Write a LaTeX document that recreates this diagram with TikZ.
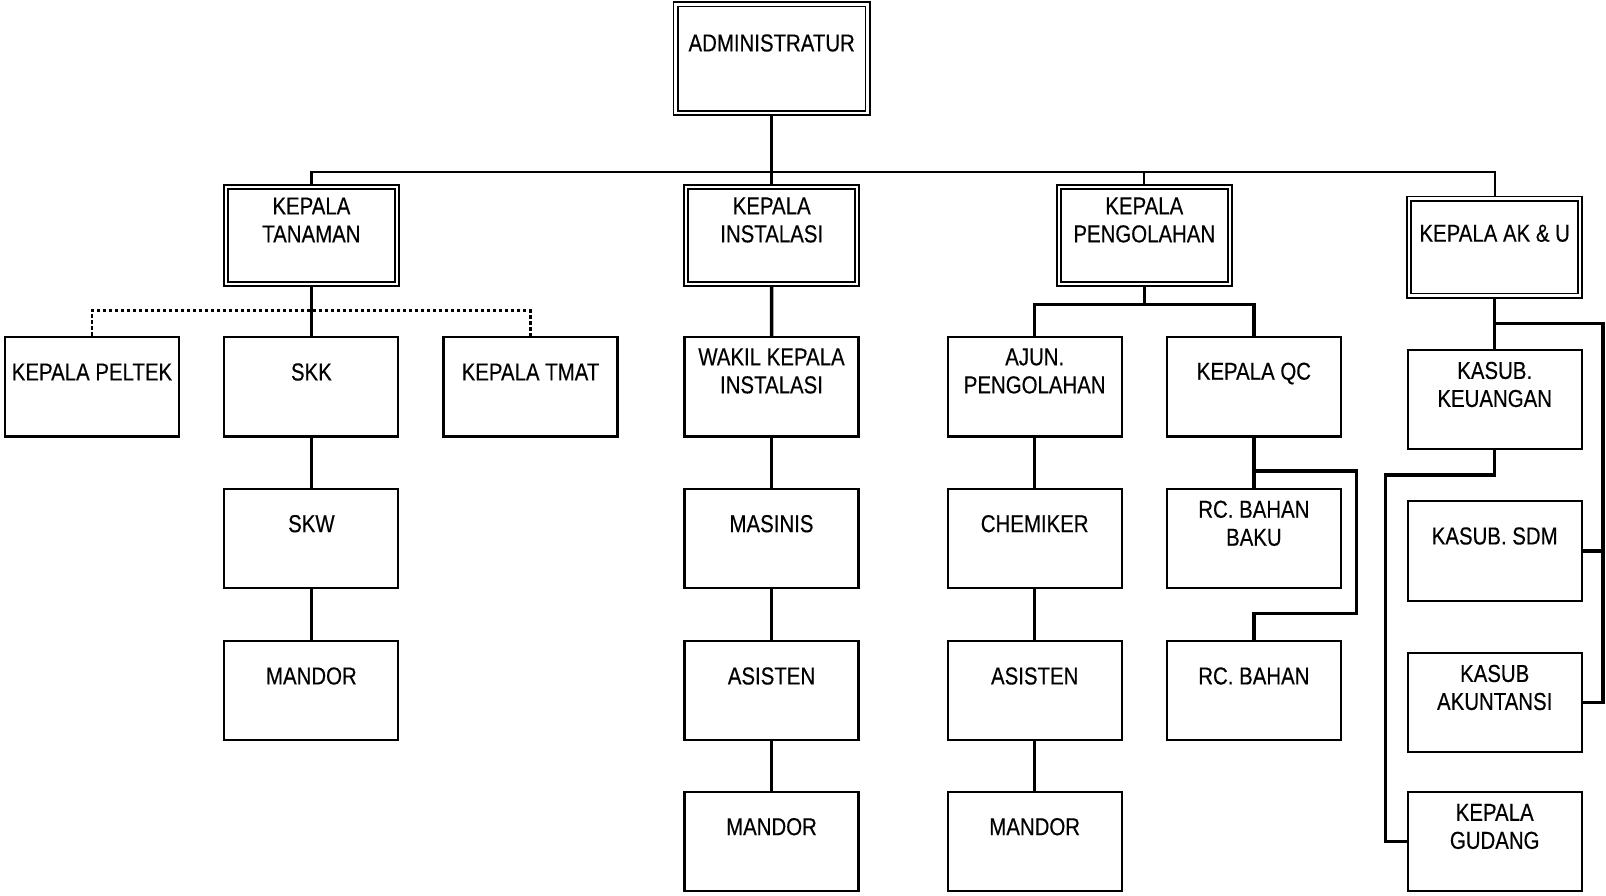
\documentclass[tikz,border=0pt]{standalone}
\usepackage{fontspec}
\setmainfont[FakeStretch=0.833,FakeBold=0.3]{Liberation Sans}
\usetikzlibrary{backgrounds}
\begin{document}
\begin{tikzpicture}[x=1pt,y=-1pt,
  box/.style={draw, fill=white, line width=2.1pt, minimum width=174pt, minimum height=99.5pt, inner sep=0pt},
  dbox/.style={draw, fill=white, line width=1.7pt, double, double distance=2.5pt, minimum width=171pt, minimum height=97pt, inner sep=0pt},
  txt/.style={font=\fontsize{24.5pt}{28pt}\selectfont, align=center, inner sep=0pt},
  conn/.style={line width=3.5pt},
  thinconn/.style={line width=2.2pt},
  dashconn/.style={line width=2.7pt, dash pattern=on 3.6pt off 2.4pt}]
\useasboundingbox (0,0) rectangle (1606,895);

% level 0
\node[dbox, minimum width=192pt, minimum height=108.4pt] (admin) at (771.7,58.6) {};
\node[txt] (admin-t) at (771.7,43) {ADMINISTRATUR};

% level 1
\node[dbox] (tanaman) at (311.4,235.3) {};
\node[txt] (tanaman-t) at (311.4,220) {KEPALA\\TANAMAN};
\node[dbox] (instalasi) at (771.7,235.3) {};
\node[txt] (instalasi-t) at (771.7,220) {KEPALA\\INSTALASI};
\node[dbox] (peng) at (1144.3,235.3) {};
\node[txt] (peng-t) at (1144.3,220) {KEPALA\\PENGOLAHAN};
\node[dbox] (aku) at (1494.7,247.2) {};
\node[txt] (aku-t) at (1494.7,233.3) {KEPALA AK \& U};

% row 2
\node[box] (peltek) at (92,386.7) {};
\node[txt] (peltek-t) at (92,372) {KEPALA PELTEK};
\node[box] (skk) at (311.4,386.7) {};
\node[txt] (skk-t) at (311.4,372) {SKK};
\node[box] (tmat) at (530.5,386.7) {};
\node[txt] (tmat-t) at (530.5,372) {KEPALA TMAT};
\node[box] (wakil) at (771.5,386.7) {};
\node[txt] (wakil-t) at (771.5,371) {WAKIL KEPALA\\INSTALASI};
\node[box] (ajun) at (1034.7,386.7) {};
\node[txt] (ajun-t) at (1034.7,371) {AJUN.\\PENGOLAHAN};
\node[box] (qc) at (1253.9,386.7) {};
\node[txt] (qc-t) at (1253.9,373.5) {KEPALA QC};

% row 3
\node[box] (skw) at (311.4,538.5) {};
\node[txt] (skw-t) at (311.4,523.7) {SKW};
\node[box] (masinis) at (771.5,538.5) {};
\node[txt] (masinis-t) at (771.5,523.7) {MASINIS};
\node[box] (chemiker) at (1034.7,538.5) {};
\node[txt] (chemiker-t) at (1034.7,523.7) {CHEMIKER};
\node[box] (rcbb) at (1253.9,538.5) {};
\node[txt] (rcbb-t) at (1253.9,523.3) {RC. BAHAN\\BAKU};

% row 4
\node[box] (mandor1) at (311.4,690.3) {};
\node[txt] (mandor1-t) at (311.4,676) {MANDOR};
\node[box] (asisten1) at (771.5,690.3) {};
\node[txt] (asisten1-t) at (771.5,676) {ASISTEN};
\node[box] (asisten2) at (1034.7,690.3) {};
\node[txt] (asisten2-t) at (1034.7,676) {ASISTEN};
\node[box] (rcb) at (1253.9,690.3) {};
\node[txt] (rcb-t) at (1253.9,676) {RC. BAHAN};

% row 5
\node[box] (mandor2) at (771.5,841.5) {};
\node[txt] (mandor2-t) at (771.5,826.7) {MANDOR};
\node[box] (mandor3) at (1034.7,841.5) {};
\node[txt] (mandor3-t) at (1034.7,826.7) {MANDOR};

% column AK & U
\node[box] (keu) at (1494.7,399.3) {};
\node[txt] (keu-t) at (1494.7,384.5) {KASUB.\\KEUANGAN};
\node[box] (sdm) at (1494.7,550.8) {};
\node[txt] (sdm-t) at (1494.7,536) {KASUB. SDM};
\node[box] (akun) at (1494.7,702.5) {};
\node[txt] (akun-t) at (1494.7,687.5) {KASUB\\AKUNTANSI};
\node[box] (gud) at (1494.7,841.5) {};
\node[txt] (gud-t) at (1494.7,826.5) {KEPALA\\GUDANG};

% junction coordinates
\coordinate (tl) at (311.4,171.7);
\coordinate (tr) at (1494.7,171.7);
\coordinate (dl) at (0,310.7);
\coordinate (pj) at (1144.3,304.3);
\coordinate (qcj) at (1253.9,471);
\coordinate (qcbend) at (1356.7,613.3);
\coordinate (akj) at (1494.7,323.3);
\coordinate (rr) at (1603,323.3);
\coordinate (kj) at (1385.7,475);

\begin{pgfonlayer}{background}
  \fill[white] (0,0) rectangle (1606,895);
  % top level
  \draw[thinconn] (tanaman.north) -- (tl) -- (tr) -- (aku.north);
  \draw[thinconn] (peng.north) -- (peng.north |- tl);
  \draw[conn] (admin.south) -- (instalasi.north);
  % tanaman
  \draw[conn] (tanaman.south) -- (skk.north);
  \draw[dashconn] (peltek.north) -- (peltek.north |- dl) -- (tmat.north |- dl) -- (tmat.north);
  \draw[conn] (skk.south) -- (skw.north);
  \draw[conn] (skw.south) -- (mandor1.north);
  % instalasi
  \draw[conn] (instalasi.south) -- (wakil.north);
  \draw[conn] (wakil.south) -- (masinis.north);
  \draw[conn] (masinis.south) -- (asisten1.north);
  \draw[conn] (asisten1.south) -- (mandor2.north);
  % pengolahan
  \draw[conn] (peng.south) -- (pj);
  \draw[conn] (ajun.north) |- (pj) -| (qc.north);
  \draw[conn] (ajun.south) -- (chemiker.north);
  \draw[conn] (chemiker.south) -- (asisten2.north);
  \draw[conn] (asisten2.south) -- (mandor3.north);
  \draw[conn] (qc.south) -- (rcbb.north);
  \draw[conn] (qcj) -| (qcbend) -| (rcb.north);
  % ak & u
  \draw[conn] (aku.south) -- (keu.north);
  \draw[conn] (akj) -- (rr) |- (akun.east);
  \draw[conn] (sdm.east) -- (sdm.east -| rr);
  \draw[conn] (keu.south) |- (kj) |- (gud.west);
\end{pgfonlayer}
\end{tikzpicture}
\end{document}
